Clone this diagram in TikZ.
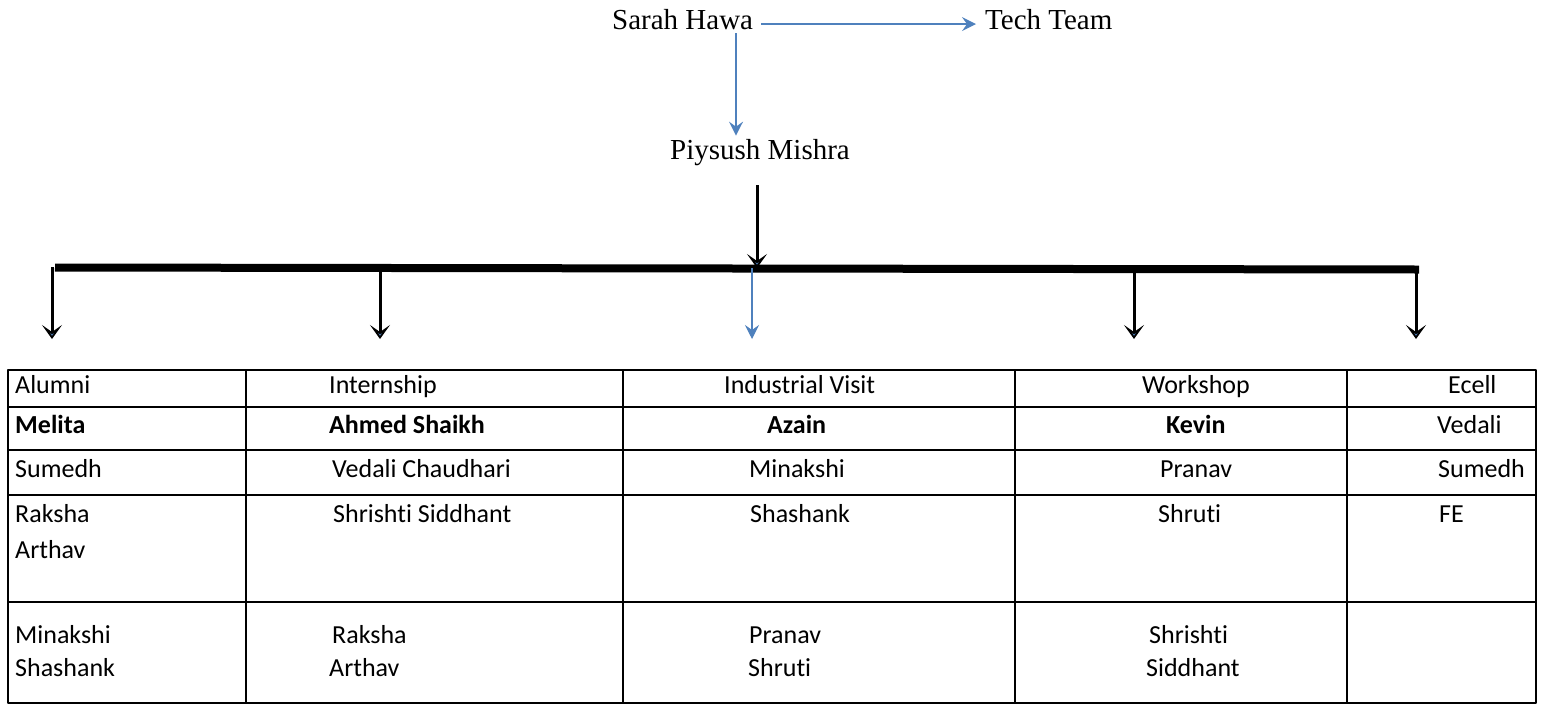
\documentclass[tikz,border=0pt]{standalone}
\usepackage{fontspec}
\setmainfont{Liberation Serif}
\newfontfamily\tablefont[Ligatures=NoCommon]{Carlito}
\usetikzlibrary{arrows.meta}
\definecolor{wordblue}{RGB}{79,129,189}
\tikzset{
  lead/.style={anchor=base west, inner sep=0pt, font=\fontsize{29}{34}\selectfont},
  cell/.style={anchor=base west, inner sep=0pt, font=\tablefont\fontsize{26}{31}\selectfont},
  head/.style={cell, font=\tablefont\bfseries\fontsize{26}{31}\selectfont},
  bluearrow/.style={wordblue, line width=1.5pt, -{Stealth[length=14pt,width=14pt,inset=5pt]}},
  blackarrow/.style={line width=3pt, -{Stealth[length=14pt,width=20pt,inset=7pt,fill=wordblue]}},
  rule/.style={line width=2pt},
}
\begin{document}
\begin{tikzpicture}[x=1pt, y=-1pt, line join=round]
 			\useasboundingbox (0,0) rectangle (1543,705);
 			% top of the chart
 			\node[lead] (sarah) at (612,29) {Sarah Hawa};
 			\node[lead] (tech) at (985,29) {Tech Team};
 			\node[lead] (piyush) at (670,159) {Piysush Mishra};
 			\coordinate (dn) at (736,0);
 			\coordinate (hub) at (757,268);
 			\draw[bluearrow] ([xshift=8pt,yshift=-5pt]sarah.east) -- ([xshift=-9pt,yshift=-5pt]tech.west);
 			\draw[bluearrow, shorten <=4pt, shorten >=3pt] (sarah.south -| dn) -- (piyush.north -| dn);
 			\draw[blackarrow, shorten <=20pt] (piyush.south -| hub) -- (hub);
 			% the bar and its branches
 			\coordinate (barL) at (55,267.5);
 			\coordinate (barR) at (1419,269.5);
 			\draw[line width=8pt] (barL) -- (barR);
 			\foreach \x/\y/\n in {52/267/alumni,380/268/intern,1134/269/workshop,1416/269/ecell}{
 				\coordinate (b\n) at (\x,\y);
 				\coordinate (e\n) at (\x,339);
 				\draw[blackarrow] (b\n) -- (e\n);
 			}
 			\coordinate (bvisit) at (752,268);
 			\coordinate (evisit) at (752,339);
 			\draw[bluearrow, line width=1.2pt] (bvisit) -- (evisit);
 			% table
 			\draw[rule] (8,370) rectangle (1536,703);
 			\foreach \x in {246,623,1015,1347}
 				\draw[rule] (\x,370) -- (\x,703);
 			\foreach \y in {407,450,495,602}
 				\draw[rule] (8,\y) -- (1536,\y);
 			\path
 			(15,393) node[cell] (tAlumni) {Alumni}
 			(329,393) node[cell] (tIntern) {Internship}
 			(724,393) node[cell] (tVisit) {Industrial Visit}
 			(1142,393) node[cell] (tWorkshop) {Workshop}
 			(1448,393) node[cell] (tEcell) {Ecell}
 			(15,433) node[head] (lAlumni) {Melita}
 			(329,433) node[head] (lIntern) {Ahmed Shaikh}
 			(767,433) node[head] (lVisit) {Azain}
 			(1166,433) node[head] (lWorkshop) {Kevin}
 			(1437,433) node[cell] (lEcell) {Vedali}
 			(15,477) node[cell] (aAlumni) {Sumedh}
 			(332,477) node[cell] (aIntern) {Vedali Chaudhari}
 			(749,477) node[cell] (aVisit) {Minakshi}
 			(1160,477) node[cell] (aWorkshop) {Pranav}
 			(1438,477) node[cell] (aEcell) {Sumedh}
 			(15,522) node[cell] (bAlumni) {Raksha}
 			(15,558) node[cell] (bAlumniTwo) {Arthav}
 			(333,522) node[cell] (bIntern) {Shrishti Siddhant}
 			(750,522) node[cell] (bVisit) {Shashank}
 			(1158,522) node[cell] (bWorkshop) {Shruti}
 			(1439,522) node[cell] (bEcell) {FE}
 			(15,643) node[cell] (cAlumni) {Minakshi}
 			(15,676) node[cell] (cAlumniTwo) {Shashank}
 			(332,643) node[cell] (cIntern) {Raksha}
 			(329,676) node[cell] (cInternTwo) {Arthav}
 			(749,643) node[cell] (cVisit) {Pranav}
 			(748,676) node[cell] (cVisitTwo) {Shruti}
 			(1149,643) node[cell] (cWorkshop) {Shrishti}
 			(1146,676) node[cell] (cWorkshopTwo) {Siddhant}
 			;
\end{tikzpicture}
\end{document}
